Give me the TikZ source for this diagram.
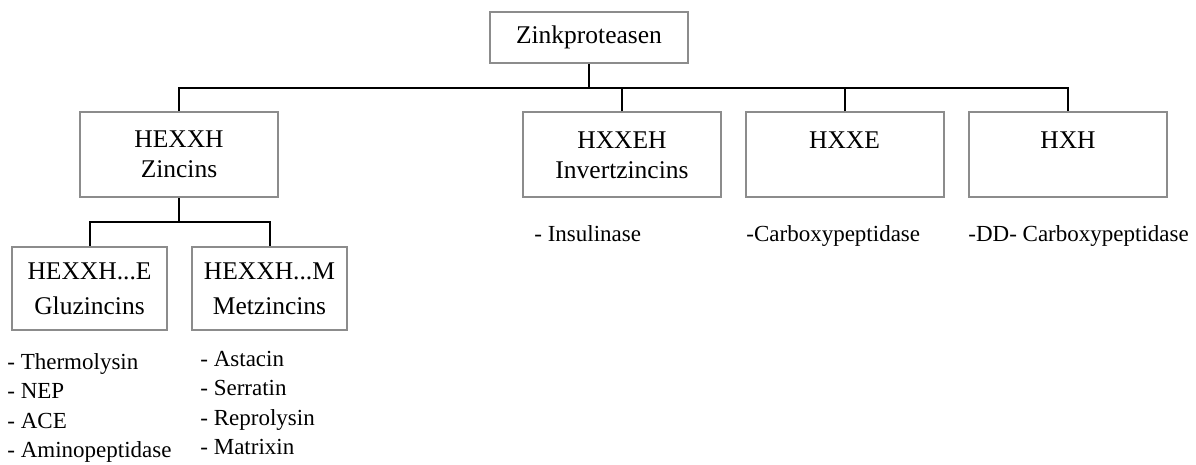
\documentclass[tikz,border=0pt]{standalone}
\usepackage{fontspec}
\setmainfont{Liberation Serif}
\usepackage{xcolor}
\usepackage{tikz}
\definecolor{boxgray}{RGB}{140,140,140}

\begin{document}
\begin{tikzpicture}[x=0.5pt,y=-0.5pt,
    box/.style={draw=boxgray,line width=1pt,minimum width=99pt,minimum height=42.5pt,
      align=center,inner sep=0pt,font=\fontsize{12.75}{15}\selectfont},
    subbox/.style={box,minimum width=77.5pt,minimum height=41.5pt,
      font=\fontsize{12.75}{17.5}\selectfont},
    item/.style={anchor=base west,inner sep=0pt,font=\fontsize{11.5}{14}\selectfont},
    conn/.style={line width=1pt}]
    \useasboundingbox (0,0) rectangle (1196,465);
    % boxes
    \node[box,minimum height=25.5pt] (zink) at (589,37.5) {Zinkproteasen};
    \node[box] (zincins) at (179,154.5) {HEXXH\\Zincins};
    \node[box] (hxxeh) at (622,155) {HXXEH\\Invertzincins};
    \node[box] (hxxe) at (844.5,155) {HXXE\\\phantom{I}};
    \node[box] (hxh) at (1068,155) {HXH\\\phantom{I}};
    \node[subbox] (gluz) at (89.5,288.5) {HEXXH...E\\Gluzincins};
    \node[subbox] (metz) at (269.5,288.5) {HEXXH...M\\Metzincins};
    % connectors
    \coordinate (bus) at (589,88);
    \coordinate (subbus) at (179,222);
    \draw[conn] (zink.south) -- (bus);
    \draw[conn] (zincins.north) |- (bus) -| (hxh.north);
    \draw[conn] (hxxeh.north) -- (hxxeh.north |- bus);
    \draw[conn] (hxxe.north) -- (hxxe.north |- bus);
    \draw[conn] (zincins.south) -- (subbus);
    \draw[conn] (gluz.north) |- (subbus) -| (metz.north);
    % members
    \foreach \t [count=\i from 0] in {Thermolysin,NEP,ACE,Aminopeptidase}
      \node[item] (gl\i) at (7,370+29*\i) {- \t};
    \foreach \t [count=\i from 0] in {Astacin,Serratin,Reprolysin,Matrixin}
      \node[item] (mz\i) at (200,366+29.5*\i) {- \t};
    \node[item] (insul) at (534,242) {- Insulinase};
    \node[item] (carb) at (746,242) {-Carboxypeptidase};
    \node[item] (ddcarb) at (968,242) {-DD- Carboxypeptidase};
\end{tikzpicture}
\end{document}
